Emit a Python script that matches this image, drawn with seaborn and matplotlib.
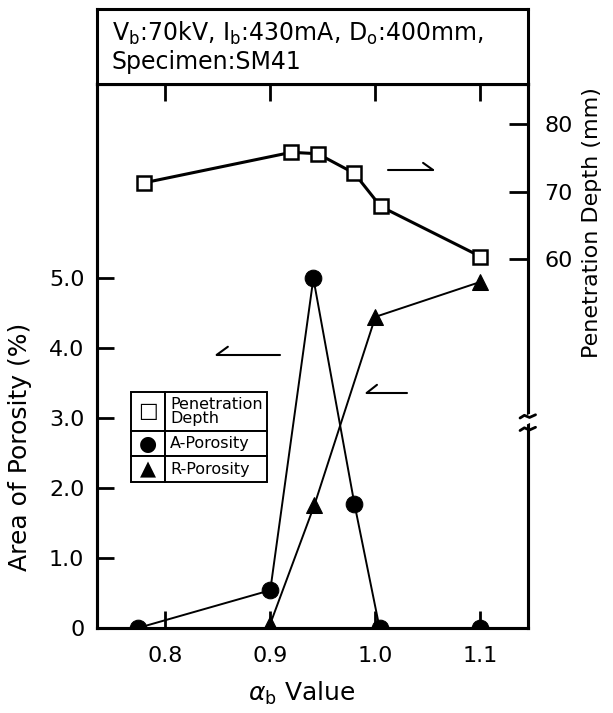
import matplotlib
matplotlib.use("Agg")
import matplotlib.pyplot as plt
import numpy as np
import seaborn as sns

# data
pen_x = [0.78, 0.92, 0.945, 0.98, 1.005, 1.10]
pen_y = [71.3, 75.8, 75.6, 72.7, 67.8, 60.4]

apor_x = [0.774, 0.90, 0.941, 0.98, 1.004, 1.10]
apor_y = [0.0, 0.54, 5.0, 1.78, 0.0, 0.0]

rpor_x = [0.90, 0.942, 1.0, 1.10]
rpor_y = [0.06, 1.76, 4.45, 4.95]

xticks = [0.8, 0.9, 1.0, 1.1]
xtick_labels = ["0.8", "0.9", "1.0", "1.1"]
yticks = [0, 1, 2, 3, 4, 5]
ytick_labels = ["0", "1.0", "2.0", "3.0", "4.0", "5.0"]
y2ticks = [60, 70, 80]
y2tick_labels = ["60", "70", "80"]

legend_rows = [["\u25A1", "Penetration\nDepth"],
               ["\u25CF", "A-Porosity"],
               ["\u25B2", "R-Porosity"]]

sns.set_style("ticks")
plt.rcParams['font.family'] = ['DejaVu Sans']
plt.rcParams['mathtext.fontset'] = 'dejavusans'
plt.rcParams['text.color'] = 'black'
plt.rcParams['axes.labelcolor'] = 'black'
plt.rcParams['xtick.color'] = 'black'
plt.rcParams['ytick.color'] = 'black'

fig = plt.figure(figsize=(6.13, 7.13), dpi=100)
ax = fig.add_axes([0.158, 0.1192, 0.703, 0.763])
ax2 = ax.twinx()

# porosity curves (left axis)
sns.lineplot(x=apor_x, y=apor_y, ax=ax, color='black', lw=1.4, marker='o',
             markersize=12, markerfacecolor='black', markeredgecolor='black')
sns.lineplot(x=rpor_x, y=rpor_y, ax=ax, color='black', lw=1.4, marker='^',
             markersize=11, markerfacecolor='black', markeredgecolor='black')

# penetration depth (right axis)
sns.lineplot(x=pen_x, y=pen_y, ax=ax2, color='black', lw=2.2, marker='s',
             markersize=10, markerfacecolor='white', markeredgecolor='black',
             markeredgewidth=1.8)

ax.set_xlim(0.735, 1.145)
ax.set_ylim(0, 7.78)
ax2.set_ylim(5.5, 85.9)

ax.set_xticks(xticks)
ax.set_xticklabels(xtick_labels, fontsize=16)
ax.set_yticks(yticks)
ax.set_yticklabels(ytick_labels, fontsize=16)
ax2.set_yticks(y2ticks)
ax2.set_yticklabels(y2tick_labels, fontsize=16)

ax.tick_params(axis='both', direction='in', length=12, width=2, top=True, right=False, pad=9)
ax.tick_params(axis='x', pad=13)
ax2.tick_params(axis='y', direction='in', length=14, width=2, pad=12)

for a in (ax, ax2):
    for s in a.spines.values():
        s.set_linewidth(2.2)
        s.set_color('black')

ax.set_xlabel(r"$\mathit{\alpha}_{\mathrm{b}}$ Value", fontsize=18)
ax.xaxis.set_label_coords(0.475, -0.095)
ax.set_ylabel("Area of Porosity (%)", fontsize=18)
ax.yaxis.set_label_coords(-0.15, 0.333)
ax2.set_ylabel("Penetration Depth (mm)", fontsize=16)
ax2.yaxis.set_label_coords(1.125, 0.745)

# axis break on right spine
ax2.plot([0.985, 1.018], [0.378, 0.390], transform=ax.transAxes, color='white',
         lw=6, clip_on=False, zorder=5)
for yb in (0.389, 0.366):
    ax2.plot([0.982, 0.992, 1.004, 1.018], [yb - 0.003, yb + 0.002, yb - 0.002, yb + 0.003],
             transform=ax.transAxes, color='black', lw=2, clip_on=False, zorder=6)

# half arrows pointing to the axes
arrow_kw = dict(transform=ax.transAxes, color='black', lw=1.5)
ax.plot([0.675, 0.780], [0.842, 0.842], **arrow_kw)
ax.plot([0.780, 0.757], [0.842, 0.855], **arrow_kw)
ax.plot([0.278, 0.425], [0.502, 0.502], **arrow_kw)
ax.plot([0.278, 0.304], [0.502, 0.517], **arrow_kw)
ax.plot([0.626, 0.719], [0.432, 0.432], **arrow_kw)
ax.plot([0.626, 0.650], [0.432, 0.447], **arrow_kw)

# legend drawn as a table
tbl = ax.table(cellText=legend_rows, cellLoc='left',
               bbox=[0.079, 0.268, 0.315, 0.166], zorder=4)
row_h = [39, 25, 26]
for (r, c), cell in tbl.get_celld().items():
    cell.set_height(row_h[r])
    cell.set_width(34 if c == 0 else 102)
    cell.set_linewidth(1.4)
    cell.PAD = 0.05
    txt = cell.get_text()
    if c == 0:
        txt.set_ha('center')
        txt.set_fontsize(15)
        cell._loc = 'center'
    else:
        txt.set_fontsize(11.5)
        txt.set_linespacing(0.95)
tbl.auto_set_font_size(False)

# title box
tax = fig.add_axes([0.158, 0.882, 0.703, 0.105])
tax.set_xticks([])
tax.set_yticks([])
for s in tax.spines.values():
    s.set_linewidth(2.2)
    s.set_color('black')
tax.text(0.035, 0.5,
         "V$_\\mathrm{b}$:70kV, I$_\\mathrm{b}$:430mA, D$_\\mathrm{o}$:400mm,\nSpecimen:SM41",
         fontsize=17, va='center', ha='left', linespacing=1.15, transform=tax.transAxes)

fig.savefig("out.png", dpi=100)
